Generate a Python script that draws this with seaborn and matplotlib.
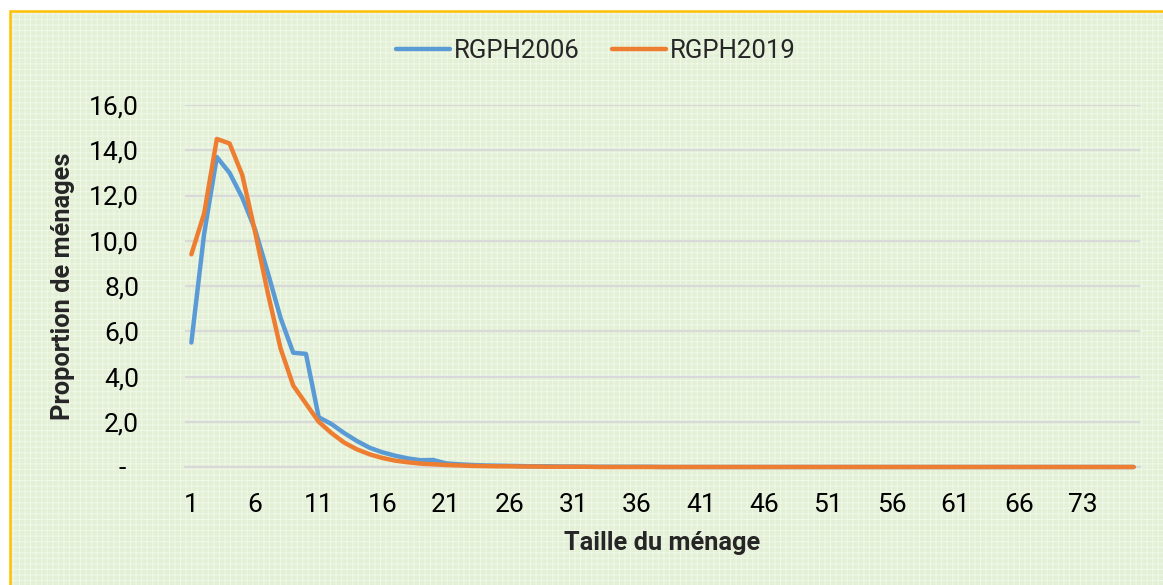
import numpy as np
import pandas as pd
import matplotlib.pyplot as plt
import seaborn as sns
from matplotlib.patches import Rectangle

# household sizes (categories on the x axis, some sizes absent at the top end)
sizes = list(range(1, 69)) + [70, 72, 73, 75, 77, 80, 85]

# proportion of households (%) per size
rgph2006 = [5.5, 10.3, 13.7, 13.0, 11.9, 10.5, 8.6, 6.6, 5.05, 5.0,
            2.2, 1.9, 1.5, 1.15, 0.85, 0.65, 0.5, 0.38, 0.3, 0.31,
            0.16, 0.12, 0.09, 0.07, 0.06, 0.05, 0.04, 0.03, 0.03, 0.02,
            0.02, 0.01, 0.01, 0.01, 0.01, 0.01, 0.01, 0.0, 0.0, 0.0,
            0.0, 0.0, 0.0, 0.0, 0.0, 0.0, 0.0, 0.0, 0.0, 0.0,
            0.0, 0.0, 0.0, 0.0, 0.0, 0.0, 0.0, 0.0, 0.0, 0.0,
            0.0, 0.0, 0.0, 0.0, 0.0, 0.0, 0.0, 0.0, 0.0, 0.0,
            0.0, 0.0, 0.0, 0.0, 0.0]
rgph2019 = [9.4, 11.2, 14.5, 14.3, 12.9, 10.4, 7.7, 5.25, 3.6, 2.8,
            2.0, 1.5, 1.08, 0.78, 0.56, 0.4, 0.28, 0.21, 0.15, 0.12,
            0.09, 0.07, 0.05, 0.04, 0.03, 0.03, 0.02, 0.02, 0.01, 0.01,
            0.01, 0.01, 0.0, 0.0, 0.0, 0.0, 0.0, 0.0, 0.0, 0.0,
            0.0, 0.0, 0.0, 0.0, 0.0, 0.0, 0.0, 0.0, 0.0, 0.0,
            0.0, 0.0, 0.0, 0.0, 0.0, 0.0, 0.0, 0.0, 0.0, 0.0,
            0.0, 0.0, 0.0, 0.0, 0.0, 0.0, 0.0, 0.0, 0.0, 0.0,
            0.0, 0.0, 0.0, 0.0, 0.0]
series_names = ['RGPH2006', 'RGPH2019']
colors = ['#5b9bd5', '#ed7d31']

y_ticks = [0, 2, 4, 6, 8, 10, 12, 14, 16]

sns.set_style('white')
plt.rcParams['font.family'] = ['Roboto', 'DejaVu Sans']
plt.rcParams['hatch.linewidth'] = 0.7

pos = list(range(len(sizes)))
df = pd.DataFrame({
    'pos': pos * 2,
    'value': rgph2006 + rgph2019,
    'serie': [series_names[0]] * len(pos) + [series_names[1]] * len(pos),
})

fig = plt.figure(figsize=(11.63, 5.85), dpi=100, facecolor='white')

# chart area background with the light texture and gold frame
fig.patches.append(Rectangle((10 / 1163, 0), 1.1, 1 - 11 / 585, transform=fig.transFigure,
                             facecolor='#e4f0d6', edgecolor='#f0f8e9', hatch='+++',
                             linewidth=0, zorder=-2))
fig.patches.append(Rectangle((10 / 1163, -0.1), 1.1, 1.1 - 11 / 585, transform=fig.transFigure,
                             facecolor='none', edgecolor='#ffc000', linewidth=1.8, zorder=-1))

ax = fig.add_axes([185 / 1163, 1 - 467 / 585, 955 / 1163, 362 / 585])
ax.set_facecolor('none')
ax.set_zorder(1)

sns.lineplot(data=df, x='pos', y='value', hue='serie', palette=colors,
             linewidth=3.2, ax=ax, legend=True)
for line in ax.lines:
    line.set_clip_on(False)
    line.set_zorder(3)
    line.set_solid_capstyle('round')

ax.set_xlim(-0.5, len(sizes) - 0.5)
ax.set_ylim(0, 16)

ax.set_yticks(y_ticks)
ax.set_yticklabels(['-  '] + [f'{v:.1f}'.replace('.', ',') for v in y_ticks[1:]])
ax.grid(axis='y', color='#d9d9d9', linewidth=1.6)
ax.set_axisbelow(True)

label_pos = list(range(0, len(sizes), 5))
ax.set_xticks(label_pos)
ax.set_xticklabels([str(sizes[i]) for i in label_pos])
ax.set_xticks(np.arange(-0.5, len(sizes), 5), minor=True)
ax.tick_params(axis='x', which='major', length=0, pad=19, labelsize=19, colors='black')
ax.tick_params(axis='x', which='minor', length=7, width=1.5, color='#d9d9d9', direction='out')
ax.tick_params(axis='y', length=0, pad=33, labelsize=19, colors='black')

for side in ['top', 'right', 'left']:
    ax.spines[side].set_visible(False)
ax.spines['bottom'].set_color('#d9d9d9')
ax.spines['bottom'].set_linewidth(1.6)
ax.spines['bottom'].set_zorder(1)

ax.set_xlabel('Taille du ménage', fontsize=18.3, fontweight='bold', labelpad=10)
ax.set_ylabel('Proportion de ménages', fontsize=18.3, fontweight='bold', labelpad=10)

handles, labels = ax.get_legend_handles_labels()
ax.legend(handles, labels, loc='center', bbox_to_anchor=(596 / 1163, 1 - 51 / 585),
          bbox_transform=fig.transFigure, ncol=2, frameon=False, fontsize=18.5,
          handlelength=2.1, handletextpad=0.15, columnspacing=1.25)

fig.savefig('out.png', dpi=100)
